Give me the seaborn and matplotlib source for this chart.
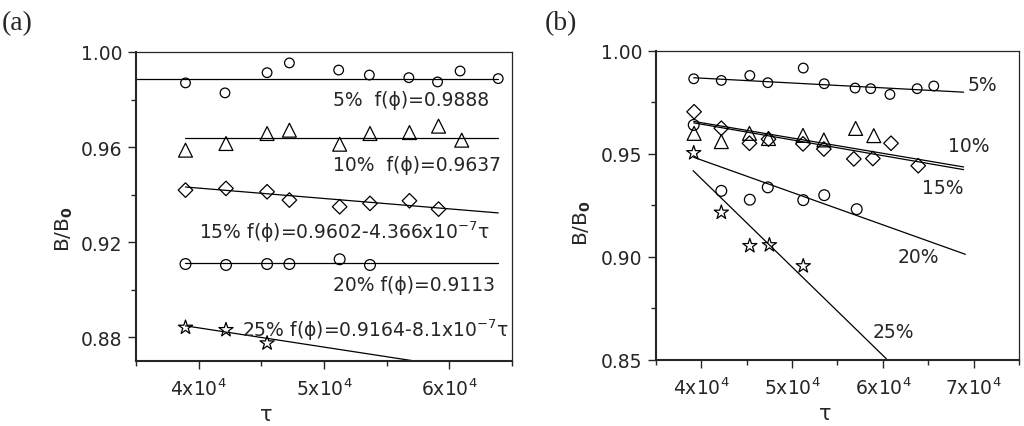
import numpy as np
import pandas as pd
import seaborn as sns
import matplotlib
matplotlib.use("Agg")
import matplotlib.pyplot as plt
from matplotlib.ticker import FixedLocator, MultipleLocator

# ---- panel (a) data ----
a_tau_5 = [38950, 42100, 45460, 47240, 51170, 53620, 56770, 59060, 60860, 63900]
a_val_5 = [0.9870, 0.9828, 0.9913, 0.9954, 0.9924, 0.9903, 0.9892, 0.9874, 0.9920, 0.9888]
a_tau_10 = [38950, 42180, 45460, 47240, 51250, 53670, 56820, 59140, 60990]
a_val_10 = [0.9587, 0.9615, 0.9657, 0.9671, 0.9612, 0.9657, 0.9661, 0.9688, 0.9629]
a_tau_15 = [38950, 42180, 45460, 47240, 51250, 53670, 56820, 59140]
a_val_15 = [0.9419, 0.9426, 0.9412, 0.9377, 0.9349, 0.9363, 0.9374, 0.9339]
a_tau_20 = [38950, 42180, 45460, 47240, 51250, 53670]
a_val_20 = [0.9108, 0.9104, 0.9108, 0.9108, 0.9128, 0.9104]
a_tau_25 = [38950, 42180, 45460]
a_val_25 = [0.8841, 0.8831, 0.8775]

# fitted lines (end points)
a_fit_tau = {"5%": [35000, 63900], "10%": [38950, 63900], "15%": [38950, 63900],
             "20%": [38950, 63900], "25%": [38950, 63900]}
a_fit_val = {"5%": [0.9888, 0.9888], "10%": [0.9637, 0.9637], "15%": [0.9432, 0.9323],
             "20%": [0.9113, 0.9113], "25%": [0.8848, 0.8646]}

a_labels = ["5%  f(ϕ)=0.9888",
            "10%  f(ϕ)=0.9637",
            "15% f(ϕ)=0.9602-4.366x10$^{\\mathregular{-7}}$τ",
            "20% f(ϕ)=0.9113",
            "25% f(ϕ)=0.9164-8.1x10$^{\\mathregular{-7}}$τ"]
a_label_pos = [(50720, 0.9802), (50720, 0.9525), (40030, 0.9247), (50720, 0.9020), (43460, 0.8835)]

# ---- panel (b) data ----
b_tau_5 = [39160, 42200, 45340, 47320, 51230, 53540, 56940, 58660, 60780, 63780, 65610]
b_val_5 = [0.9865, 0.9857, 0.9881, 0.9846, 0.9917, 0.9841, 0.9820, 0.9817, 0.9789, 0.9817, 0.9830]
b_tau_10 = [39200, 42200, 45300, 47400, 51200, 53500, 57000, 59000]
b_val_10 = [0.9600, 0.9560, 0.9600, 0.9575, 0.9590, 0.9568, 0.9624, 0.9589]
b_tau_15 = [39200, 42200, 45300, 47400, 51200, 53500, 56800, 58900, 60900, 63900]
b_val_15 = [0.9705, 0.9625, 0.9552, 0.9572, 0.9549, 0.9524, 0.9476, 0.9478, 0.9552, 0.9443]
b_tau_20 = [39160, 42200, 45340, 47320, 51230, 53540, 57120]
b_val_20 = [0.9641, 0.9321, 0.9278, 0.9338, 0.9276, 0.9300, 0.9232]
b_tau_25 = [39160, 42200, 45340, 47500, 51230]
b_val_25 = [0.9505, 0.9216, 0.9054, 0.9058, 0.8956]

b_fit_tau = {"5%": [39160, 68900], "10%": [39160, 68900], "15%": [39160, 68900],
             "20%": [39160, 69090], "25%": [39090, 60380]}
b_fit_val = {"5%": [0.9870, 0.9800], "10%": [0.9658, 0.9437], "15%": [0.9651, 0.9424],
             "20%": [0.9484, 0.9013], "25%": [0.9419, 0.8506]}

b_labels = ["5%", "10%", "15%", "20%", "25%"]
b_label_pos = [(69380, 0.9836), (67180, 0.9539), (64300, 0.9335), (61670, 0.9000), (58910, 0.8636)]

groups = ["5%", "10%", "15%", "20%", "25%"]
markers = {"5%": "o", "10%": "^", "15%": "D", "20%": "o", "25%": "*"}
sizes = {"5%": 48, "10%": 100, "15%": 55, "20%": 60, "25%": 115}

a_xticks = [40000, 50000, 60000]
b_xticks = [40000, 50000, 60000, 70000]
xtick_text = {40000: "4x10$^{\\mathregular{4}}$", 50000: "5x10$^{\\mathregular{4}}$",
              60000: "6x10$^{\\mathregular{4}}$", 70000: "7x10$^{\\mathregular{4}}$"}

sns.set_style("ticks")
plt.rcParams["font.family"] = ["DejaVu Sans"]
plt.rcParams["mathtext.fontset"] = "dejavusans"

fig = plt.figure(figsize=(10.24, 4.27), dpi=100)
ax_a = fig.add_axes([0.1328, 0.1522, 0.3672, 0.7237])
ax_b = fig.add_axes([0.6406, 0.1546, 0.3545, 0.7237])


def points_frame(taus, vals):
    rows = []
    for g, t, v in zip(groups, taus, vals):
        for ti, vi in zip(t, v):
            rows.append((g, ti, vi))
    return pd.DataFrame(rows, columns=["group", "tau", "ratio"])


def draw(ax, df, fit_tau, fit_val):
    for g in groups:
        sub = df[df.group == g]
        sns.scatterplot(data=sub, x="tau", y="ratio", marker=markers[g], s=sizes[g],
                        color="black", facecolor="none", edgecolor="black",
                        linewidth=0.9, ax=ax, zorder=3, clip_on=False)
        sns.lineplot(x=fit_tau[g], y=fit_val[g], color="black", linewidth=0.9,
                     ax=ax, zorder=2)


def style(ax, xlim, ylim, xticks, yticks, yminor, ylab_x, ylab_y, xlab_x):
    ax.set_xlim(*xlim)
    ax.set_ylim(*ylim)
    ax.xaxis.set_major_locator(FixedLocator(xticks))
    ax.set_xticklabels([xtick_text[t] for t in xticks])
    ax.xaxis.set_minor_locator(MultipleLocator(10000, offset=5000))
    ax.yaxis.set_major_locator(FixedLocator(yticks))
    ax.set_yticklabels(["%.2f" % t for t in yticks])
    ax.yaxis.set_minor_locator(MultipleLocator(yminor))
    ax.tick_params(which="major", direction="out", length=6, width=1, labelsize=13.5, pad=4)
    ax.tick_params(axis="x", which="major", pad=6)
    ax.tick_params(which="minor", direction="out", length=3.5, width=1)
    for s in ["left", "bottom"]:
        ax.spines[s].set_linewidth(1.5)
    for s in ["top", "right"]:
        ax.spines[s].set_linewidth(0.9)
    ax.set_xlabel("τ", fontsize=15, va="center")
    ax.set_ylabel("B/B$_{\\mathbf{0}}$", fontsize=14.5)
    ax.yaxis.set_label_coords(ylab_x, ylab_y)
    ax.xaxis.set_label_coords(xlab_x, -0.17)


df_a = points_frame([a_tau_5, a_tau_10, a_tau_15, a_tau_20, a_tau_25],
                    [a_val_5, a_val_10, a_val_15, a_val_20, a_val_25])
draw(ax_a, df_a, a_fit_tau, a_fit_val)
for txt, (x, y) in zip(a_labels, a_label_pos):
    ax_a.text(x, y, txt, fontsize=13.5, ha="left", va="center")
style(ax_a, (35000, 65000), (0.870, 1.00), a_xticks, [0.88, 0.92, 0.96, 1.00], 0.02,
      -0.162, 0.43, 0.346)

df_b = points_frame([b_tau_5, b_tau_10, b_tau_15, b_tau_20, b_tau_25],
                    [b_val_5, b_val_10, b_val_15, b_val_20, b_val_25])
draw(ax_b, df_b, b_fit_tau, b_fit_val)
for txt, (x, y) in zip(b_labels, b_label_pos):
    ax_b.text(x, y, txt, fontsize=13.5, ha="left", va="center")
style(ax_b, (35000, 75000), (0.85, 1.00), b_xticks, [0.85, 0.90, 0.95, 1.00], 0.025,
      -0.174, 0.447, 0.466)

fig.text(0.002, 0.945, "(a)", fontsize=20, family=["Liberation Serif", "DejaVu Serif"], va="center")
fig.text(0.532, 0.945, "(b)", fontsize=20, family=["Liberation Serif", "DejaVu Serif"], va="center")

fig.savefig("out.png", dpi=100)
